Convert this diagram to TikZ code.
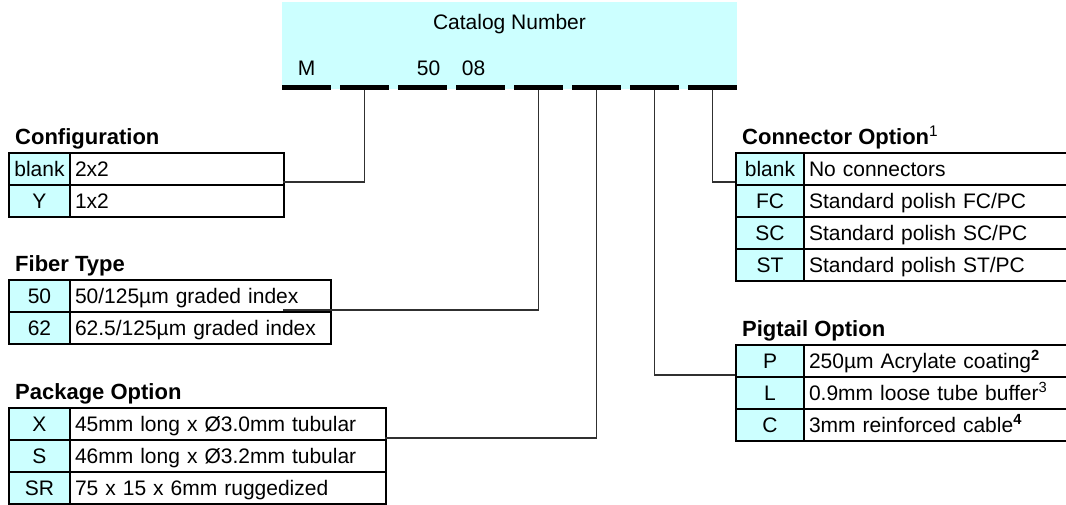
\documentclass[tikz,border=0pt]{standalone}
\usepackage{fontspec}
\setmainfont{Liberation Sans}
\definecolor{lcyan}{HTML}{CCFFFF}
\definecolor{conngray}{HTML}{303030}
\begin{document}
\begin{tikzpicture}[x=1pt,y=-1pt,
  every node/.style={font=\fontsize{21}{24}\selectfont},
  keycell/.style={draw, line width=2pt, fill=lcyan, minimum width=#1, minimum height=32pt,
    inner sep=0pt, anchor=north west, text height=15pt, text depth=0pt},
  valcell/.style={draw, line width=2pt, minimum height=32pt, inner xsep=5pt, inner ysep=0pt,
    anchor=north west, align=left, text width=#1, text height=15pt, text depth=0pt},
  head/.style={anchor=base west, inner sep=0pt, font=\fontsize{22}{24}\selectfont\bfseries},
  plain/.style={anchor=base, inner sep=0pt},
  barseg/.style={fill=black, draw=none, minimum width=49pt, minimum height=5pt, inner sep=0pt},
  conn/.style={draw=conngray, line width=1.3pt}
]
\useasboundingbox (0,0) rectangle (1066,504);

% catalog number box
\node[fill=lcyan, draw=none, minimum width=455pt, minimum height=87pt, inner sep=0pt, anchor=north west] (cat) at (282,2) {};
\node[plain] (catn) at (509.5,29) {Catalog Number};
\node[plain] (cm) at (306.5,75) {M};
\node[plain] (c50) at (428.5,75) {50};
\node[plain] (c08) at (473.5,75) {08};
\foreach \i in {1,...,8}{
  \node[barseg] (b\i) at ({306.5+58*(\i-1)},87) {};
}

% Configuration
\node[head] (hconf) at (15,144) {Configuration};
\node[keycell=61pt] (cfk1) at (8,152) {blank};
\node[valcell=204pt] (cfv1) at (69,152) {2x2};
\node[keycell=61pt] (cfk2) at (8,184) {Y};
\node[valcell=204pt] (cfv2) at (69,184) {1x2};

% Fiber Type
\node[head] (hfib) at (15,271) {Fiber Type};
\node[keycell=61pt] (fbk1) at (8,279) {50};
\node[valcell=251pt] (fbv1) at (69,279) {50/125µm graded index};
\node[keycell=61pt] (fbk2) at (8,311) {62};
\node[valcell=251pt] (fbv2) at (69,311) {62.5/125µm graded index};

% Package Option
\node[head] (hpkg) at (15,399) {Package Option};
\node[keycell=61pt] (pkk1) at (8,407) {X};
\node[valcell=306pt] (pkv1) at (69,407) {45mm long x Ø3.0mm tubular};
\node[keycell=61pt] (pkk2) at (8,439) {S};
\node[valcell=306pt] (pkv2) at (69,439) {46mm long x Ø3.2mm tubular};
\node[keycell=61pt] (pkk3) at (8,471) {SR};
\node[valcell=306pt] (pkv3) at (69,471) {75 x 15 x 6mm ruggedized};

% Connector Option
\node[head] (hcon) at (742,144) {Connector Option\textsuperscript{\mdseries 1}};
\node[keycell=68pt] (cok1) at (735,152) {blank};
\node[valcell=257pt] (cov1) at (803,152) {No connectors};
\node[keycell=68pt] (cok2) at (735,184) {FC};
\node[valcell=257pt] (cov2) at (803,184) {Standard polish FC/PC};
\node[keycell=68pt] (cok3) at (735,216) {SC};
\node[valcell=257pt] (cov3) at (803,216) {Standard polish SC/PC};
\node[keycell=68pt] (cok4) at (735,248) {ST};
\node[valcell=257pt] (cov4) at (803,248) {Standard polish ST/PC};

% Pigtail Option
\node[head] (hpig) at (742,336) {Pigtail Option};
\node[keycell=68pt] (pgk1) at (735,344) {P};
\node[valcell=257pt] (pgv1) at (803,344) {250µm Acrylate coating\textsuperscript{\bfseries 2}};
\node[keycell=68pt] (pgk2) at (735,376) {L};
\node[valcell=257pt] (pgv2) at (803,376) {0.9mm loose tube buffer\textsuperscript{3}};
\node[keycell=68pt] (pgk3) at (735,408) {C};
\node[valcell=257pt] (pgv3) at (803,408) {3mm reinforced cable\textsuperscript{\bfseries 4}};

% attachment points
\coordinate (aconf) at (283,182);
\coordinate (afib) at (283,310);
\coordinate (apkg) at (385,438);
\coordinate (apig) at (735,375);
\coordinate (acon) at (735,182);

\draw[conn] (b2.south) |- (aconf);
\draw[conn] (b5.south) |- (afib);
\draw[conn] (b6.south) |- (apkg);
\draw[conn] (b7.south) |- (apig);
\draw[conn] (b8.south) |- (acon);
\end{tikzpicture}
\end{document}
